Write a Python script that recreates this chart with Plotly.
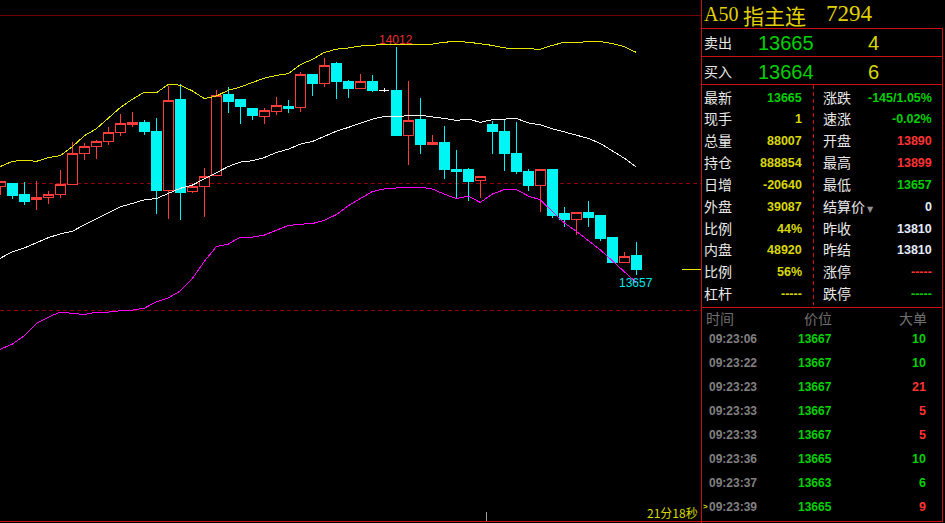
import plotly.graph_objects as go

W, H = 945, 523
CHART_W = 701

opens = [13795,13799,13782,13774,13777,13782,13798,13846,13857,13865,13879,13891,13895,13880,13788,13930,13787,13795,13812,13938,13930,13916,13904,13912,13920,13918,13969,13955,13986,13959,13947,13959,13944,13945,13874,13899,13861,13864,13822,13821,13805,13891,13880,13847,13819,13796,13821,13752,13744,13755,13749,13715,13677,13688]
highs = [13803,13799,13802,13803,13788,13821,13864,13862,13867,13888,13908,13911,13899,13902,13952,13954,13799,13824,13945,13950,13931,13916,13917,13934,13930,13973,13970,13995,13989,13961,13970,13969,13949,14012,13959,13933,13875,13889,13852,13824,13811,13897,13899,13895,13822,13822,13821,13763,13755,13772,13749,13716,13693,13708]
lows = [13781,13775,13766,13758,13768,13777,13798,13836,13838,13860,13874,13888,13875,13752,13744,13743,13785,13747,13812,13910,13892,13899,13892,13906,13910,13911,13936,13950,13931,13933,13947,13942,13942,13874,13828,13846,13860,13807,13775,13772,13777,13846,13819,13814,13788,13755,13746,13732,13719,13732,13710,13677,13676,13657]
closes = [13803,13781,13772,13778,13783,13798,13847,13858,13865,13879,13893,13895,13881,13788,13929,13786,13795,13811,13937,13928,13919,13905,13914,13921,13917,13970,13955,13984,13958,13947,13959,13945,13944,13874,13898,13861,13864,13821,13819,13803,13811,13880,13846,13819,13797,13821,13750,13743,13755,13747,13713,13677,13686,13665]
upper_band = [13826,13834,13836,13834,13840,13843,13857,13874,13885,13902,13918,13931,13942,13941,13954,13953,13944,13932,13936,13945,13950,13957,13964,13968,13971,13985,13993,14004,14009,14011,14014,14015,14017,14017,14017,14017,14017,14020,14021,14020,14018,14015,14011,14010,14010,14009,14015,14020,14020,14020,14021,14018,14013,14004]
mid_band = [13683,13693,13699,13707,13715,13721,13725,13735,13745,13754,13763,13769,13774,13776,13784,13792,13797,13807,13816,13826,13833,13835,13840,13848,13853,13861,13865,13873,13881,13887,13894,13900,13904,13904,13905,13906,13904,13901,13898,13900,13895,13899,13900,13901,13894,13891,13885,13880,13875,13870,13862,13851,13839,13825]
lower_band = [13541,13549,13562,13581,13591,13599,13597,13595,13599,13599,13601,13602,13605,13615,13621,13632,13651,13678,13701,13705,13716,13716,13719,13726,13734,13736,13737,13742,13751,13765,13776,13787,13791,13793,13794,13794,13791,13783,13776,13780,13770,13783,13790,13790,13780,13774,13756,13738,13725,13710,13696,13679,13662,13645]
ref_levels = [14062, 13800, 13602]
ref_dash = ["solid", "dash", "dash"]

title_prefix = "A50"
title_name = "指主连"
title_code = "7294"
quotes = [("卖出", "13665", "4"), ("买入", "13664", "6")]
left_labels = ["最新","现手","总量","持仓","日增","外盘","比例","内盘","比例","杠杆"]
left_values = ["13665","1","88007","888854","-20640","39087","44%","48920","56%","-----"]
left_colors = ["g","y","y","y","y","y","y","y","y","y"]
right_labels = ["涨跌","速涨","开盘","最高","最低","结算价","昨收","昨结","涨停","跌停"]
right_values = ["-145/1.05%","-0.02%","13890","13899","13657","0","13810","13810","-----","-----"]
right_colors = ["g","g","r","r","g","w","w","w","r","g"]
tick_header = ["时间","价位","大单"]
tick_times = ["09:23:06","09:23:22","09:23:23","09:23:33","09:23:33","09:23:36","09:23:37","09:23:39"]
tick_prices = ["13667","13667","13667","13667","13667","13665","13663","13665"]
tick_sizes = ["10","10","21","5","5","10","6","9"]
tick_colors = ["g","g","r","r","r","g","g","r"]
timer = "21分18秒"

COL = {"g": "#00d000", "y": "#d8d800", "r": "#ff3333", "w": "#e4ecff"}
RED = "#cc0f0f"
CJK = "Noto Sans CJK SC"
NUM = "Liberation Sans"

idx = list(range(len(opens)))
doji = [i for i in idx if opens[i] == closes[i]]
body = [i for i in idx if i not in doji]

fig = go.Figure()
def candles(ids, up, down, fill_up, fill_down):
    fig.add_trace(go.Candlestick(
        x=ids, open=[opens[i] for i in ids], high=[highs[i] for i in ids],
        low=[lows[i] for i in ids], close=[closes[i] for i in ids],
        whiskerwidth=0,
        increasing=dict(line=dict(color=up, width=1), fillcolor=fill_up),
        decreasing=dict(line=dict(color=down, width=1), fillcolor=fill_down),
        showlegend=False, hoverinfo="skip"))
candles(body, "#ff3c3c", "#00f5f5", "#000000", "#00f5f5")
candles(doji, "#ffffff", "#ffffff", "#ffffff", "#ffffff")

for series, colour in ((upper_band, "#e6e600"), (mid_band, "#f4f4f4"), (lower_band, "#ff00ff")):
    fig.add_trace(go.Scatter(x=idx, y=series, mode="lines", showlegend=False, hoverinfo="skip",
                             line=dict(color=colour, width=1)))

X0, X1 = -0.025, (CHART_W - 0.3) / 12
Y0 = 14039 - 0.52 * (3 * (H - 30))
Y1 = 14039 + 0.52 * 90

def px(x): return x / W
def py(y): return 1 - y / H

shapes = []
def seg(x0, y0, x1, y1, color=RED, width=1, dash="solid"):
    shapes.append(dict(type="line", xref="paper", yref="paper", x0=px(x0), y0=py(y0), x1=px(x1), y1=py(y1),
                       line=dict(color=color, width=width, dash=dash), layer="above"))

for lv, d in zip(ref_levels, ref_dash):
    shapes.append(dict(type="line", xref="paper", yref="y", x0=0, x1=px(CHART_W), y0=lv, y1=lv, layer="below",
                       line=dict(color="#6e0000" if d == "solid" else "#8f0000", width=1,
                                 dash="solid" if d == "solid" else "4px,3px")))
seg(701.5, 0, 701.5, 523)
seg(701.5, 28.5, 943, 28.5)
seg(701.5, 56.5, 943, 56.5)
seg(701.5, 84.5, 943, 84.5)
seg(701.5, 307.5, 943, 307.5)
seg(942.5, 28, 942.5, 521)
seg(0, 521.5, 943, 521.5)
seg(813.5, 85, 813.5, 305, dash="4px,3px")
seg(682, 269.5, 701, 269.5, color="#e6e600")
seg(486.5, 512, 486.5, 521, color="#a0a0a0")

ann = []
def text(x, y, s, size=14, color="#e8e8e8", font=CJK, anchor="left", bold=False):
    ann.append(dict(xref="paper", yref="paper", x=px(x), y=py(y), text=f"<b>{s}</b>" if bold else s,
                    showarrow=False, xanchor=anchor, yanchor="middle", borderpad=0,
                    font=dict(size=size, color=color, family=font)))

text(703, 14, title_prefix, size=20, color="#e0d000", font="Liberation Serif")
text(742, 15, title_name, size=21, color="#e0d000", font=CJK)
text(825, 14, title_code, size=23, color="#e0d000", font="Liberation Serif")
for (lab, price, vol), y in zip(quotes, (43, 72)):
    text(703, y - 1, lab, size=14)
    text(786, y, price, size=20, color=COL["g"], font=NUM, anchor="center")
    text(873, y, vol, size=20, color=COL["y"], font=NUM, anchor="center")

row_y = [98, 119, 141, 163, 185, 207, 229, 250, 272, 294]
for lab, val, c, y in zip(left_labels, left_values, left_colors, row_y):
    text(703, y - 1, lab, size=14)
    text(803, y, val, size=12.5, color=COL[c], font=NUM, anchor="right", bold=True)
for lab, val, c, y in zip(right_labels, right_values, right_colors, row_y):
    text(822, y - 1, lab, size=14)
    text(933, y, val, size=12.5, color=COL[c], font=NUM, anchor="right", bold=True)
text(866, 209, "▼", size=8, color="#909090", font="DejaVu Sans")

for s, x in zip(tick_header, (705, 803, 898)):
    text(x, 318, s, size=14, color="#707070")
tick_y = [339, 363, 387, 411, 435, 459, 483, 507]
for t, p, v, c, y in zip(tick_times, tick_prices, tick_sizes, tick_colors, tick_y):
    text(708, y, t, size=12, color="#808080", font=NUM, bold=True)
    text(797, y, p, size=12, color=COL["g"], font=NUM, bold=True)
    text(927, y, v, size=12.5, color=COL[c], font=NUM, anchor="right", bold=True)
text(702, 506, "&gt;", size=8, color=COL["y"], font=NUM, bold=True)
text(699, 512, timer, size=12, color="#d8d800", anchor="right")

hi = highs.index(max(highs))
lo = lows.index(min(lows))
ann.append(dict(x=hi, y=highs[hi], text=str(highs[hi]), showarrow=False, yshift=7, xref="x", yref="y",
                font=dict(size=12, color="#e83030", family=NUM)))
ann.append(dict(x=lo, y=lows[lo], text=str(lows[lo]), showarrow=False, yshift=-8, xref="x", yref="y",
                font=dict(size=12, color="#00e8e8", family=NUM)))

fig.update_layout(
    width=W, height=H, margin=dict(l=0, r=0, t=0, b=0), paper_bgcolor="#000000", plot_bgcolor="#000000",
    boxgap=0.17, boxgroupgap=0, showlegend=False, shapes=shapes, annotations=ann,
    xaxis=dict(domain=[0, CHART_W / W], range=[X0, X1], showgrid=False, zeroline=False, showticklabels=False,
               ticks="", rangeslider=dict(visible=False), fixedrange=True),
    yaxis=dict(range=[Y0, Y1], showgrid=False, zeroline=False, showticklabels=False, ticks="", fixedrange=True),
)
fig.write_html("out.html", config={"displayModeBar": False},
               post_script="document.body.style.margin='0';document.body.style.background='#000';"
                           "var s=document.createElement('style');"
                           "s.textContent='.js-plotly-plot path{shape-rendering:crispEdges !important}';"
                           "document.head.appendChild(s);")
